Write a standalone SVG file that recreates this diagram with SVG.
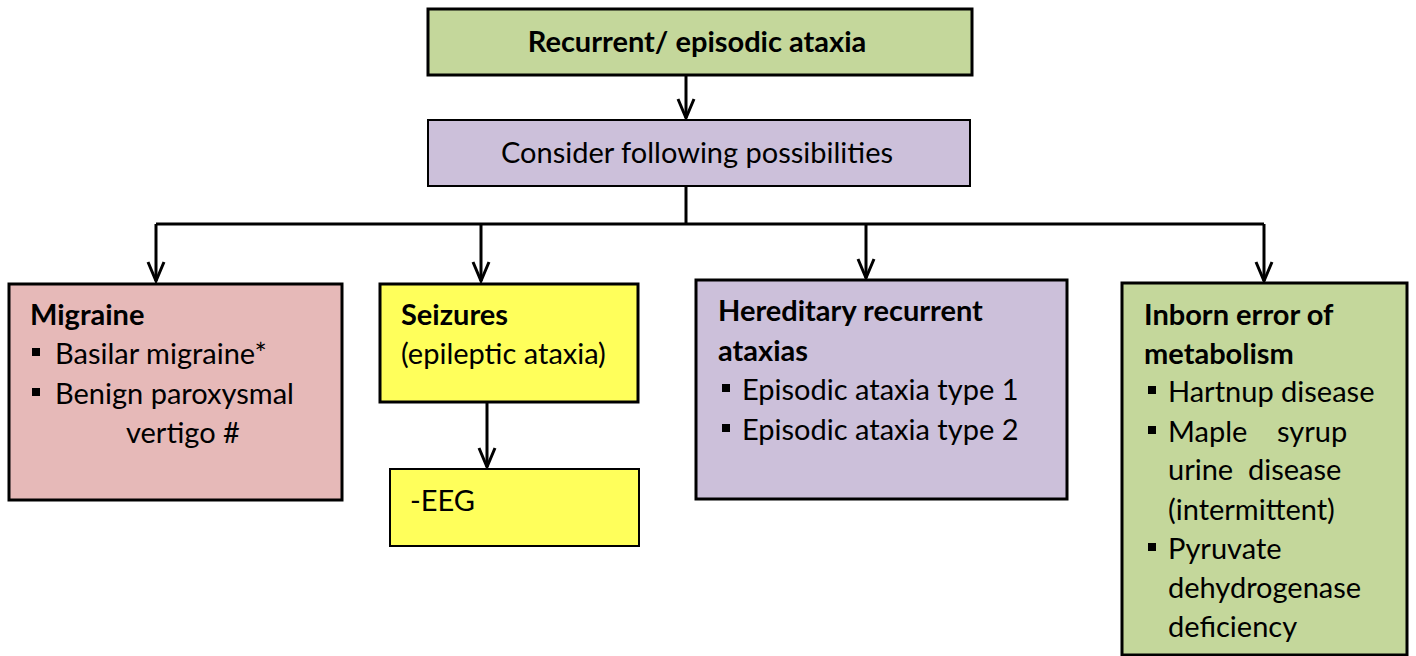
<svg xmlns="http://www.w3.org/2000/svg" width="1416" height="656" viewBox="0 0 1416 656">
<defs>
<style>
text{font-family:Lato,"Open Sans","Liberation Sans",sans-serif;font-size:29px;fill:#000}
.b{font-weight:bold}
.box{stroke:#000;stroke-width:3}
.thin{stroke-width:2}
.green{fill:#c4d79b}
.lav{fill:#ccc0da}
.pink{fill:#e6b9b8}
.yel{fill:#ffff5b}
.conn{fill:none;stroke:#000;stroke-width:3}
.bul{fill:#000}
</style>
<marker id="arr" markerUnits="userSpaceOnUse" markerWidth="30" markerHeight="30" refX="0" refY="0" orient="auto" overflow="visible">
<path d="M-19,-8 L0,0 L-19,8" fill="none" stroke="#000" stroke-width="3"/>
</marker>
</defs>
<g id="connectors">
<line class="conn" x1="686" y1="75" x2="686" y2="118" marker-end="url(#arr)"/>
<polyline class="conn" points="686,186 686,224"/>
<polyline class="conn" points="156,224 1264,224"/>
<line class="conn" x1="156" y1="224" x2="156" y2="281" marker-end="url(#arr)"/>
<line class="conn" x1="481" y1="224" x2="481" y2="281" marker-end="url(#arr)"/>
<line class="conn" x1="866" y1="224" x2="866" y2="278" marker-end="url(#arr)"/>
<line class="conn" x1="1264" y1="224" x2="1264" y2="281" marker-end="url(#arr)"/>
<line class="conn" x1="487" y1="402" x2="487" y2="467" marker-end="url(#arr)"/>
</g>
<g id="top">
<rect class="box green" x="428" y="9" width="544" height="66"/>
<text class="b" x="697" y="52" text-anchor="middle">Recurrent/ episodic ataxia</text>
</g>
<g id="consider">
<rect class="box thin lav" x="428" y="120" width="542" height="66"/>
<text x="697" y="163" text-anchor="middle">Consider following possibilities</text>
</g>
<g id="migraine">
<rect class="box pink" x="9" y="284" width="333" height="216"/>
<text class="b" x="30" y="325">Migraine</text>
<rect class="bul" x="32" y="348" width="8" height="8"/>
<text x="55" y="364">Basilar migraine*</text>
<rect class="bul" x="32" y="388" width="8" height="8"/>
<text x="55" y="404">Benign paroxysmal</text>
<text x="126" y="443">vertigo #</text>
</g>
<g id="seizures">
<rect class="box yel" x="380" y="284" width="258" height="118"/>
<text class="b" x="401" y="325">Seizures</text>
<text x="401" y="364">(epileptic ataxia)</text>
</g>
<g id="eeg">
<rect class="box thin yel" x="390" y="469" width="249" height="77"/>
<text x="410" y="511">-EEG</text>
</g>
<g id="hereditary">
<rect class="box lav" x="696" y="280" width="371" height="219"/>
<text class="b" x="718" y="321">Hereditary recurrent</text>
<text class="b" x="718" y="361">ataxias</text>
<rect class="bul" x="722" y="384" width="8" height="8"/>
<text x="742" y="400">Episodic ataxia type 1</text>
<rect class="bul" x="722" y="424" width="8" height="8"/>
<text x="742" y="440">Episodic ataxia type 2</text>
</g>
<g id="inborn">
<rect class="box green" x="1122" y="283" width="285" height="372"/>
<text class="b" x="1144" y="325">Inborn error of</text>
<text class="b" x="1144" y="364">metabolism</text>
<rect class="bul" x="1148" y="386" width="8" height="8"/>
<text x="1168" y="402">Hartnup disease</text>
<rect class="bul" x="1148" y="426" width="8" height="8"/>
<text x="1168" y="442" xml:space="preserve">Maple    syrup</text>
<text x="1168" y="480" xml:space="preserve">urine  disease</text>
<text x="1168" y="520">(intermittent)</text>
<rect class="bul" x="1148" y="543" width="8" height="8"/>
<text x="1168" y="559">Pyruvate</text>
<text x="1168" y="598">dehydrogenase</text>
<text x="1168" y="637">deficiency</text>
</g>
</svg>
